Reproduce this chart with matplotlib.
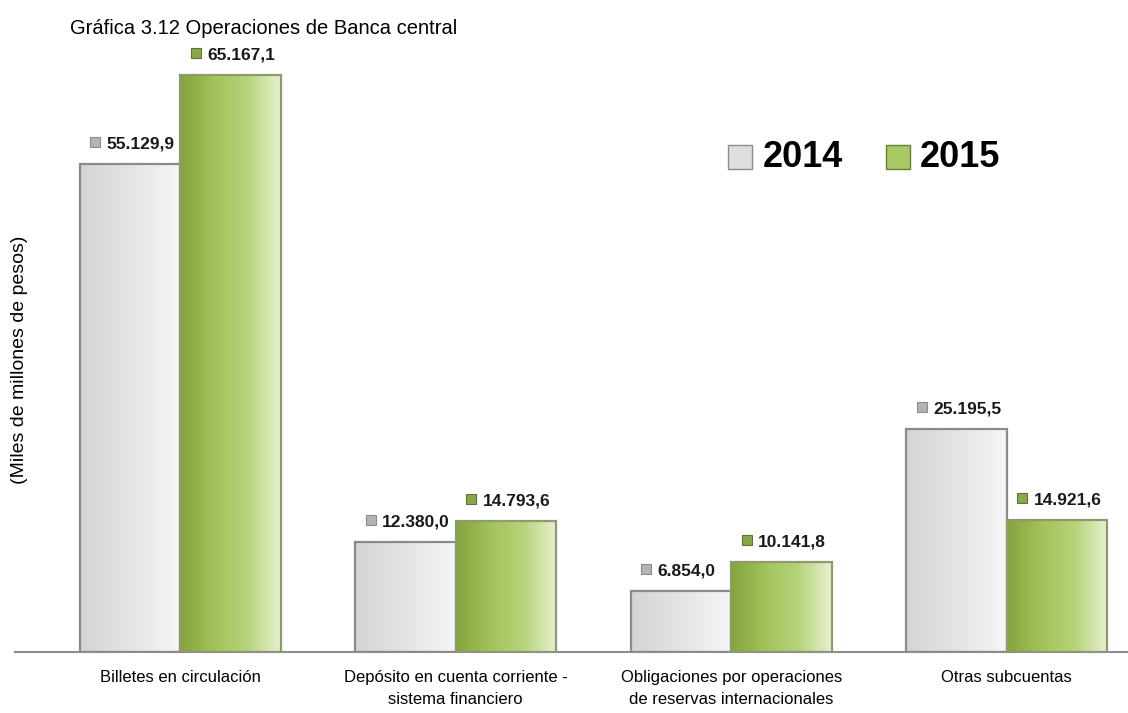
import numpy as np
import matplotlib.pyplot as plt
from matplotlib.colors import LinearSegmentedColormap
from matplotlib.transforms import offset_copy

categorias = ["Billetes en circulación",
              "Depósito en cuenta corriente -\nsistema financiero",
              "Obligaciones por operaciones\nde reservas internacionales",
              "Otras subcuentas"]
valores_2014 = [55129.9, 12380.0, 6854.0, 25195.5]
valores_2015 = [65167.1, 14793.6, 10141.8, 14921.6]
anios = ["2014", "2015"]

plt.rcParams['font.family'] = ['Liberation Sans', 'DejaVu Sans']

cmap_gris = LinearSegmentedColormap.from_list("gris", ["#d4d4d4", "#e4e4e4", "#f6f6f6"])
cmap_verde = LinearSegmentedColormap.from_list("verde", ["#84a33c", "#a1c35a", "#b6d37a", "#e8f1d0"])


def fmt(v):
    s = f"{v:,.1f}"
    return s.replace(",", "X").replace(".", ",").replace("X", ".")


fig = plt.figure(figsize=(11.28, 7.13), dpi=100)
ax = fig.add_axes([15 / 1128, 61 / 713, 1 - 15 / 1128, 652 / 713])

x = np.arange(len(categorias))
w = 0.365
ymax = 73700

series = [(valores_2014, -w / 2, cmap_gris, "#8a8a8a", "#b4b4b4", "#8c8c8c"),
          (valores_2015, w / 2, cmap_verde, "#8f9a70", "#8aa84a", "#5f7430")]
grad = np.linspace(0, 1, 256).reshape(1, -1)

tr_txt = offset_copy(ax.transData, fig=fig, x=-17, y=9, units="points")
tr_mk = offset_copy(ax.transData, fig=fig, x=-25, y=16, units="points")

for vals, off, cmap, edge, mcol, medge in series:
    bars = ax.bar(x + off, vals, w, facecolor="none", edgecolor=edge, linewidth=1.6, zorder=3)
    for b, v in zip(bars, vals):
        im = ax.imshow(grad, cmap=cmap, aspect="auto", zorder=2,
                       extent=[b.get_x(), b.get_x() + w, 0, v])
        im.set_clip_path(b)
        cx = b.get_x() + w / 2
        ax.text(cx, v, fmt(v), transform=tr_txt, ha="left", va="bottom",
                fontsize=12.5, fontweight="bold", color="#1a1a1a")
        ax.plot([cx], [v], marker="s", markersize=6.5, color=mcol, markeredgecolor=medge,
                markeredgewidth=0.8, transform=tr_mk, clip_on=False)

ax.set_xlim(-0.6, 3.44)
ax.set_ylim(0, ymax)
for s in ["top", "right", "left"]:
    ax.spines[s].set_visible(False)
ax.spines["bottom"].set_color("#8c8c8c")
ax.spines["bottom"].set_linewidth(1.5)
ax.set_yticks([])
ax.set_xticks(x)
ax.set_xticklabels(categorias, fontsize=12, linespacing=1.6)
ax.tick_params(axis="x", length=0, pad=13)

# leyenda
ly = 0.759
ax.plot([0.6515], [ly], marker="s", markersize=17, color="#dedede", markeredgecolor="#8c8c8c",
        markeredgewidth=1, transform=ax.transAxes, clip_on=False)
ax.text(0.672, ly, anios[0], transform=ax.transAxes, fontsize=26, fontweight="bold", va="center", ha="left")
ax.plot([0.7935], [ly], marker="s", markersize=17, color="#a8c864", markeredgecolor="#6b7f3a",
        markeredgewidth=1, transform=ax.transAxes, clip_on=False)
ax.text(0.813, ly, anios[1], transform=ax.transAxes, fontsize=26, fontweight="bold", va="center", ha="left")

fig.text(70 / 1128, 1 - 28 / 713, "Gráfica 3.12 Operaciones de Banca central", fontsize=14.5, va="center", ha="left")
fig.text(20 / 1128, 1 - 360 / 713, "(Miles de millones de pesos)", fontsize=14, rotation=90, va="center", ha="center")

fig.savefig("out.png", dpi=100)
